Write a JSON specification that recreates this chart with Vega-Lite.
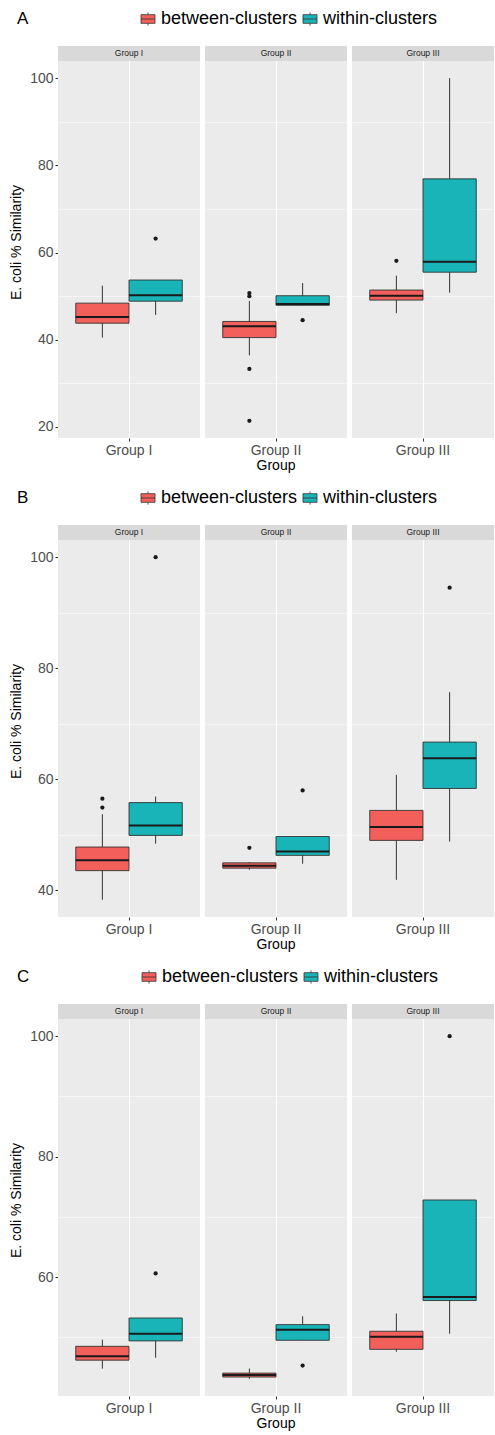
{
  "$schema": "https://vega.github.io/schema/vega-lite/v6.json",
  "background": "white",
  "padding": {"left": 9, "right": 0, "top": 10, "bottom": 0},
  "datasets": {
    "d": [
      {"panel":"A","group":"Group I","type":"between-clusters","kind":"box","lower":40.5,"q1":43.8,"median":45.2,"q3":48.4,"upper":52.4},
      {"panel":"A","group":"Group I","type":"within-clusters","kind":"box","lower":45.7,"q1":48.85,"median":50.2,"q3":53.7,"upper":53.7},
      {"panel":"A","group":"Group II","type":"between-clusters","kind":"box","lower":36.4,"q1":40.5,"median":43.1,"q3":44.2,"upper":48.9},
      {"panel":"A","group":"Group II","type":"within-clusters","kind":"box","lower":47.9,"q1":47.9,"median":48.2,"q3":50.1,"upper":53.0},
      {"panel":"A","group":"Group III","type":"between-clusters","kind":"box","lower":46.1,"q1":49.1,"median":50.1,"q3":51.4,"upper":54.7},
      {"panel":"A","group":"Group III","type":"within-clusters","kind":"box","lower":50.8,"q1":55.5,"median":57.9,"q3":76.9,"upper":100},
      {"panel":"A","group":"Group I","type":"within-clusters","kind":"outlier","value":63.2},
      {"panel":"A","group":"Group II","type":"between-clusters","kind":"outlier","value":50.7},
      {"panel":"A","group":"Group II","type":"between-clusters","kind":"outlier","value":50.0},
      {"panel":"A","group":"Group II","type":"between-clusters","kind":"outlier","value":33.3},
      {"panel":"A","group":"Group II","type":"between-clusters","kind":"outlier","value":21.4},
      {"panel":"A","group":"Group II","type":"within-clusters","kind":"outlier","value":44.5},
      {"panel":"A","group":"Group III","type":"between-clusters","kind":"outlier","value":58.1},

      {"panel":"B","group":"Group I","type":"between-clusters","kind":"box","lower":38.3,"q1":43.55,"median":45.4,"q3":47.8,"upper":53.7},
      {"panel":"B","group":"Group I","type":"within-clusters","kind":"box","lower":48.4,"q1":49.9,"median":51.7,"q3":55.8,"upper":56.9},
      {"panel":"B","group":"Group II","type":"between-clusters","kind":"box","lower":43.7,"q1":44.0,"median":44.45,"q3":44.95,"upper":45.1},
      {"panel":"B","group":"Group II","type":"within-clusters","kind":"box","lower":44.8,"q1":46.3,"median":47.0,"q3":49.7,"upper":49.7},
      {"panel":"B","group":"Group III","type":"between-clusters","kind":"box","lower":41.9,"q1":49.0,"median":51.4,"q3":54.4,"upper":60.8},
      {"panel":"B","group":"Group III","type":"within-clusters","kind":"box","lower":48.8,"q1":58.35,"median":63.8,"q3":66.7,"upper":75.7},
      {"panel":"B","group":"Group I","type":"between-clusters","kind":"outlier","value":56.5},
      {"panel":"B","group":"Group I","type":"between-clusters","kind":"outlier","value":54.9},
      {"panel":"B","group":"Group I","type":"within-clusters","kind":"outlier","value":100},
      {"panel":"B","group":"Group II","type":"between-clusters","kind":"outlier","value":47.65},
      {"panel":"B","group":"Group II","type":"within-clusters","kind":"outlier","value":58.0},
      {"panel":"B","group":"Group III","type":"within-clusters","kind":"outlier","value":94.5},

      {"panel":"C","group":"Group I","type":"between-clusters","kind":"box","lower":44.8,"q1":46.2,"median":46.85,"q3":48.5,"upper":49.6},
      {"panel":"C","group":"Group I","type":"within-clusters","kind":"box","lower":46.6,"q1":49.4,"median":50.6,"q3":53.2,"upper":53.2},
      {"panel":"C","group":"Group II","type":"between-clusters","kind":"box","lower":43.1,"q1":43.4,"median":43.75,"q3":44.05,"upper":44.8},
      {"panel":"C","group":"Group II","type":"within-clusters","kind":"box","lower":49.5,"q1":49.5,"median":51.25,"q3":52.1,"upper":53.5},
      {"panel":"C","group":"Group III","type":"between-clusters","kind":"box","lower":47.6,"q1":48.0,"median":50.1,"q3":51.0,"upper":53.95},
      {"panel":"C","group":"Group III","type":"within-clusters","kind":"box","lower":50.6,"q1":56.1,"median":56.7,"q3":72.8,"upper":72.8},
      {"panel":"C","group":"Group I","type":"within-clusters","kind":"outlier","value":60.6},
      {"panel":"C","group":"Group II","type":"within-clusters","kind":"outlier","value":45.3},
      {"panel":"C","group":"Group III","type":"within-clusters","kind":"outlier","value":100}
    ]
  },
  "config": {
    "font": "Liberation Sans",
    "view": {"fill": "#ebebeb", "stroke": null},
    "axis": {
      "domain": false,
      "tickColor": "#333333",
      "tickSize": 3,
      "labelColor": "#4d4d4d",
      "labelFontSize": 14,
      "labelPadding": 2,
      "titleFontSize": 14,
      "titleFontWeight": "normal",
      "titleColor": "#000000",
      "gridColor": "#ffffff",
      "gridWidth": 1.1
    },
    "header": {
      "labels": false,
      "labelPadding": 0,
      "titleFontSize": 14,
      "titleFontWeight": "normal",
      "titleColor": "#000000",
      "titleOrient": "bottom",
      "titlePadding": -8
    },
    "legend": {
      "orient": "none",
      "direction": "horizontal",
      "titleOrient": "left",
      "titleFontSize": 17,
      "titleFontWeight": "normal",
      "titleColor": "#000000",
      "titlePadding": 110,
      "labelFontSize": 18,
      "labelColor": "#000000",
      "labelOffset": 4,
      "columnPadding": 3,
      "symbolType": "M-1,-0.62H1V0.62H-1Z M-1,0H1 M0,-0.62V-0.95 M0,0.62V0.95",
      "symbolSize": 196,
      "symbolStrokeColor": "#333333",
      "symbolStrokeWidth": 0.8
    }
  },
  "resolve": {"legend": {"fill": "independent"}},
  "spacing": 16,
  "vconcat": [
    {
      "data": {"name": "d"},
      "transform": [{"filter": "datum.panel == 'A'"}],
      "facet": {"column": {"field": "group", "type": "nominal", "header": {"title": "Group"}}},
      "spacing": 5,
      "resolve": {"scale": {"x": "independent", "xOffset": "independent"}},
      "spec": {
        "width": 142,
        "height": 392,
        "resolve": {"axis": {"y": "independent"}},
        "layer": [
          {
            "transform": [{"filter": "datum.kind == 'box' && datum.type == 'between-clusters'"}],
            "mark": {"type": "rect", "fill": "#d9d9d9"},
            "encoding": {
              "y": {"datum": 103.93, "type": "quantitative", "scale": {"domain": [17.47, 107.37], "nice": false, "zero": false}, "axis": null},
              "y2": {"datum": 107.37}
            }
          },
          {
            "transform": [{"filter": "datum.kind == 'box' && datum.type == 'between-clusters'"}],
            "mark": {"type": "text", "fontSize": 8.5, "color": "#1a1a1a", "baseline": "middle"},
            "encoding": {
              "y": {"datum": 105.65, "type": "quantitative", "axis": null},
              "text": {"field": "group"}
            }
          },
          {
            "transform": [{"filter": "datum.kind == 'box'"}],
            "mark": {"type": "rule", "color": "#333333", "strokeWidth": 1},
            "encoding": {
              "x": {"field": "group", "type": "nominal", "scale": {"paddingInner": 0, "paddingOuter": 0.1}, "axis": {"title": null, "labelAngle": 0, "grid": true, "orient": "bottom"}},
              "xOffset": {"field": "type", "type": "nominal", "scale": {"paddingInner": 0, "paddingOuter": 0.111}},
              "y": {"field": "lower", "type": "quantitative", "axis": {"orient": "left", "title": "E. coli % Similarity", "values": [20, 40, 60, 80, 100], "titlePadding": 6}},
              "y2": {"field": "upper"}
            }
          },
          {
            "transform": [{"filter": "datum.kind == 'box'"}],
            "mark": {"type": "bar", "stroke": "#333333", "strokeWidth": 0.9},
            "encoding": {
              "x": {"field": "group", "type": "nominal"},
              "xOffset": {"field": "type", "type": "nominal"},
              "y": {"field": "q1", "type": "quantitative", "axis": null},
              "y2": {"field": "q3"},
              "width": {"band": 1},
              "fill": {"field": "type", "type": "nominal", "scale": {"domain": ["between-clusters", "within-clusters"], "range": ["#F35F5A", "#19B4B7"]}, "legend": {"title": "A", "legendX": -41, "legendY": -36}}
            }
          },
          {
            "transform": [{"filter": "datum.kind == 'box'"}],
            "mark": {"type": "bar", "stroke": "#1a1a1a", "strokeWidth": 2, "fillOpacity": 0},
            "encoding": {
              "x": {"field": "group", "type": "nominal"},
              "xOffset": {"field": "type", "type": "nominal"},
              "y": {"field": "median", "type": "quantitative", "axis": null},
              "y2": {"field": "median"},
              "width": {"band": 1}
            }
          },
          {
            "transform": [{"filter": "datum.kind == 'outlier'"}],
            "mark": {"type": "point", "filled": true, "size": 18, "color": "#1a1a1a", "opacity": 1},
            "encoding": {
              "x": {"field": "group", "type": "nominal"},
              "xOffset": {"field": "type", "type": "nominal"},
              "y": {"field": "value", "type": "quantitative", "axis": {"orient": "left", "values": [30, 50, 70, 90], "grid": true, "gridWidth": 0.5, "labels": false, "ticks": false, "title": null}}
            }
          }
        ]
      }
    },
    {
      "data": {"name": "d"},
      "transform": [{"filter": "datum.panel == 'B'"}],
      "facet": {"column": {"field": "group", "type": "nominal", "header": {"title": "Group"}}},
      "spacing": 5,
      "resolve": {"scale": {"x": "independent", "xOffset": "independent"}},
      "spec": {
        "width": 142,
        "height": 392,
        "resolve": {"axis": {"y": "independent"}},
        "layer": [
          {
            "transform": [{"filter": "datum.kind == 'box' && datum.type == 'between-clusters'"}],
            "mark": {"type": "rect", "fill": "#d9d9d9"},
            "encoding": {
              "y": {"datum": 103.1, "type": "quantitative", "scale": {"domain": [35.2, 105.8], "nice": false, "zero": false}, "axis": null},
              "y2": {"datum": 105.8}
            }
          },
          {
            "transform": [{"filter": "datum.kind == 'box' && datum.type == 'between-clusters'"}],
            "mark": {"type": "text", "fontSize": 8.5, "color": "#1a1a1a", "baseline": "middle"},
            "encoding": {
              "y": {"datum": 104.45, "type": "quantitative", "axis": null},
              "text": {"field": "group"}
            }
          },
          {
            "transform": [{"filter": "datum.kind == 'box'"}],
            "mark": {"type": "rule", "color": "#333333", "strokeWidth": 1},
            "encoding": {
              "x": {"field": "group", "type": "nominal", "scale": {"paddingInner": 0, "paddingOuter": 0.1}, "axis": {"title": null, "labelAngle": 0, "grid": true, "orient": "bottom"}},
              "xOffset": {"field": "type", "type": "nominal", "scale": {"paddingInner": 0, "paddingOuter": 0.111}},
              "y": {"field": "lower", "type": "quantitative", "axis": {"orient": "left", "title": "E. coli % Similarity", "values": [40, 60, 80, 100], "titlePadding": 6}},
              "y2": {"field": "upper"}
            }
          },
          {
            "transform": [{"filter": "datum.kind == 'box'"}],
            "mark": {"type": "bar", "stroke": "#333333", "strokeWidth": 0.9},
            "encoding": {
              "x": {"field": "group", "type": "nominal"},
              "xOffset": {"field": "type", "type": "nominal"},
              "y": {"field": "q1", "type": "quantitative", "axis": null},
              "y2": {"field": "q3"},
              "width": {"band": 1},
              "fill": {"field": "type", "type": "nominal", "scale": {"domain": ["between-clusters", "within-clusters"], "range": ["#F35F5A", "#19B4B7"]}, "legend": {"title": "B", "legendX": -41, "legendY": -36}}
            }
          },
          {
            "transform": [{"filter": "datum.kind == 'box'"}],
            "mark": {"type": "bar", "stroke": "#1a1a1a", "strokeWidth": 2, "fillOpacity": 0},
            "encoding": {
              "x": {"field": "group", "type": "nominal"},
              "xOffset": {"field": "type", "type": "nominal"},
              "y": {"field": "median", "type": "quantitative", "axis": null},
              "y2": {"field": "median"},
              "width": {"band": 1}
            }
          },
          {
            "transform": [{"filter": "datum.kind == 'outlier'"}],
            "mark": {"type": "point", "filled": true, "size": 18, "color": "#1a1a1a", "opacity": 1},
            "encoding": {
              "x": {"field": "group", "type": "nominal"},
              "xOffset": {"field": "type", "type": "nominal"},
              "y": {"field": "value", "type": "quantitative", "axis": {"orient": "left", "values": [50, 70, 90], "grid": true, "gridWidth": 0.5, "labels": false, "ticks": false, "title": null}}
            }
          }
        ]
      }
    },
    {
      "data": {"name": "d"},
      "transform": [{"filter": "datum.panel == 'C'"}],
      "facet": {"column": {"field": "group", "type": "nominal", "header": {"title": "Group"}}},
      "spacing": 5,
      "resolve": {"scale": {"x": "independent", "xOffset": "independent"}},
      "spec": {
        "width": 142,
        "height": 392,
        "resolve": {"axis": {"y": "independent"}},
        "layer": [
          {
            "transform": [{"filter": "datum.kind == 'box' && datum.type == 'between-clusters'"}],
            "mark": {"type": "rect", "fill": "#d9d9d9"},
            "encoding": {
              "y": {"datum": 102.85, "type": "quantitative", "scale": {"domain": [40.25, 105.34], "nice": false, "zero": false}, "axis": null},
              "y2": {"datum": 105.34}
            }
          },
          {
            "transform": [{"filter": "datum.kind == 'box' && datum.type == 'between-clusters'"}],
            "mark": {"type": "text", "fontSize": 8.5, "color": "#1a1a1a", "baseline": "middle"},
            "encoding": {
              "y": {"datum": 104.1, "type": "quantitative", "axis": null},
              "text": {"field": "group"}
            }
          },
          {
            "transform": [{"filter": "datum.kind == 'box'"}],
            "mark": {"type": "rule", "color": "#333333", "strokeWidth": 1},
            "encoding": {
              "x": {"field": "group", "type": "nominal", "scale": {"paddingInner": 0, "paddingOuter": 0.1}, "axis": {"title": null, "labelAngle": 0, "grid": true, "orient": "bottom"}},
              "xOffset": {"field": "type", "type": "nominal", "scale": {"paddingInner": 0, "paddingOuter": 0.111}},
              "y": {"field": "lower", "type": "quantitative", "axis": {"orient": "left", "title": "E. coli % Similarity", "values": [60, 80, 100], "titlePadding": 6}},
              "y2": {"field": "upper"}
            }
          },
          {
            "transform": [{"filter": "datum.kind == 'box'"}],
            "mark": {"type": "bar", "stroke": "#333333", "strokeWidth": 0.9},
            "encoding": {
              "x": {"field": "group", "type": "nominal"},
              "xOffset": {"field": "type", "type": "nominal"},
              "y": {"field": "q1", "type": "quantitative", "axis": null},
              "y2": {"field": "q3"},
              "width": {"band": 1},
              "fill": {"field": "type", "type": "nominal", "scale": {"domain": ["between-clusters", "within-clusters"], "range": ["#F35F5A", "#19B4B7"]}, "legend": {"title": "C", "legendX": -41, "legendY": -36}}
            }
          },
          {
            "transform": [{"filter": "datum.kind == 'box'"}],
            "mark": {"type": "bar", "stroke": "#1a1a1a", "strokeWidth": 2, "fillOpacity": 0},
            "encoding": {
              "x": {"field": "group", "type": "nominal"},
              "xOffset": {"field": "type", "type": "nominal"},
              "y": {"field": "median", "type": "quantitative", "axis": null},
              "y2": {"field": "median"},
              "width": {"band": 1}
            }
          },
          {
            "transform": [{"filter": "datum.kind == 'outlier'"}],
            "mark": {"type": "point", "filled": true, "size": 18, "color": "#1a1a1a", "opacity": 1},
            "encoding": {
              "x": {"field": "group", "type": "nominal"},
              "xOffset": {"field": "type", "type": "nominal"},
              "y": {"field": "value", "type": "quantitative", "axis": {"orient": "left", "values": [50, 70, 90], "grid": true, "gridWidth": 0.5, "labels": false, "ticks": false, "title": null}}
            }
          }
        ]
      }
    }
  ]
}
